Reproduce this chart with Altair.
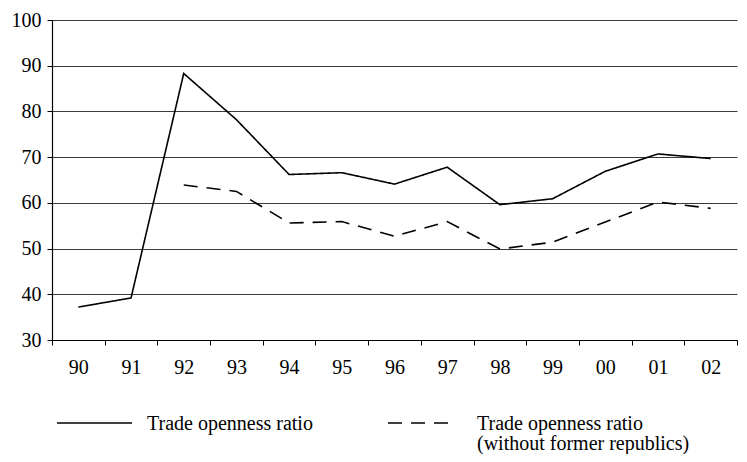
import altair as alt
import pandas as pd

years = ["90", "91", "92", "93", "94", "95", "96", "97", "98", "99", "00", "01", "02"]
trade = [37.2, 39.2, 88.3, 78.2, 66.2, 66.6, 64.1, 67.8, 59.6, 60.9, 66.9, 70.7, 69.7]
trade_wo = [None, None, 63.9, 62.5, 55.6, 55.9, 52.7, 55.9, 49.9, 51.4, 55.8, 60.2, 58.8]
series = ["Trade openness ratio", "Trade openness ratio (without former republics)"]
legend_line1 = ["Trade openness ratio", "Trade openness ratio"]
legend_line2 = "(without former republics)"

rows = []
for y, a, b in zip(years, trade, trade_wo):
    rows.append({"year": y, "value": a, "series": series[0]})
    if b is not None:
        rows.append({"year": y, "value": b, "series": series[1]})
df = pd.DataFrame(rows)

FONT = "Liberation Serif"
FS = 20
DASH = [14, 9]

lines = alt.Chart(df).mark_line(color="black", strokeWidth=1.6).encode(
    x=alt.X("year:N", sort=years, bandPosition=0.5,
            scale=alt.Scale(type="band", paddingInner=0, paddingOuter=0),
            axis=alt.Axis(title=None, tickBand="extent", labelAngle=0, grid=False,
                          tickSize=5, labelPadding=12, domainColor="black",
                          tickColor="black", domainWidth=1.2)),
    y=alt.Y("value:Q", scale=alt.Scale(domain=[30, 100], nice=False, zero=False),
            axis=alt.Axis(title=None, values=list(range(30, 101, 10)), tickSize=5,
                          labelPadding=6, grid=True, gridColor="#3a3a3a", gridWidth=1,
                          domainColor="black", tickColor="black", domainWidth=1.2)),
    strokeDash=alt.StrokeDash("series:N", sort=series,
                              scale=alt.Scale(domain=series, range=[[1, 0], DASH]),
                              legend=None),
    order=alt.Order("year_idx:Q"),
).transform_calculate(
    year_idx="indexof(" + str(years) + ", datum.year)"
)

one = pd.DataFrame({"k": [0]})
leg_solid = alt.Chart(one).mark_rule(color="black", strokeWidth=1.6).encode(
    x=alt.value(5), x2=alt.value(80), y=alt.value(403))
leg_dash = alt.Chart(one).mark_rule(color="black", strokeWidth=1.6, strokeDash=DASH).encode(
    x=alt.value(336), x2=alt.value(400), y=alt.value(403))
txt_kw = dict(align="left", baseline="alphabetic", font=FONT, fontSize=FS, color="black")
leg_t1 = alt.Chart(one).mark_text(**txt_kw).encode(
    x=alt.value(95), y=alt.value(410), text=alt.value(legend_line1[0]))
leg_t2 = alt.Chart(one).mark_text(**txt_kw).encode(
    x=alt.value(425), y=alt.value(410), text=alt.value(legend_line1[1]))
leg_t3 = alt.Chart(one).mark_text(**txt_kw).encode(
    x=alt.value(425), y=alt.value(430), text=alt.value(legend_line2))

chart = alt.layer(lines, leg_solid, leg_dash, leg_t1, leg_t2, leg_t3).properties(
    width=685, height=320,
    autosize=alt.AutoSizeParams(type="none"),
    padding={"left": 44, "top": 12, "right": 2, "bottom": 114},
).configure_axis(
    labelFont=FONT, labelFontSize=FS, labelColor="black"
).configure_view(stroke=None)

chart.save("out.html", embed_options={"renderer": "svg", "actions": False})
